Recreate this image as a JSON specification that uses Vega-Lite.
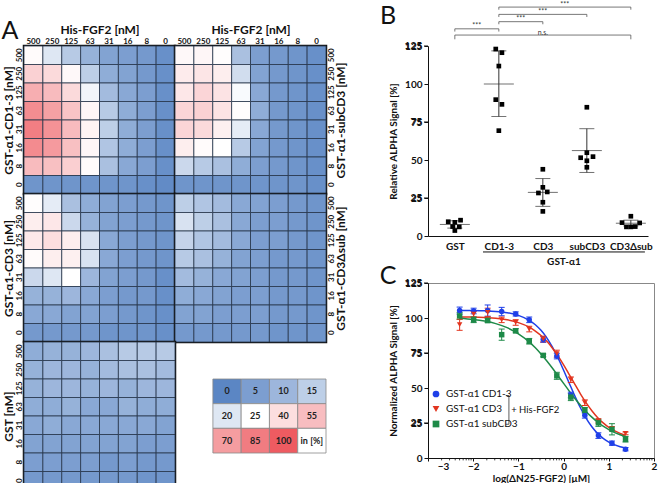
{
"$schema": "https://vega.github.io/schema/vega-lite/v6.json",
"padding": {"left": 0, "top": 0, "right": 0, "bottom": 0},
"config": {
  "font": "Lato",
  "view": {"stroke": null},
  "axis": {"grid": false, "domainColor": "#111", "tickColor": "#111", "labelColor": "#111", "titleColor": "#111", "labelFont": "Lato", "titleFont": "Lato"},
  "axisQuantitative": {"tickSize": 4, "labelFontSize": 10, "labelFontWeight": "bold", "labelFlush": false, "labelOverlap": false, "labelPadding": 2, "titleFontSize": 10, "titleFontWeight": "bold"},
  "text": {"font": "Lato"},
  "title": {"font": "Lato", "color": "#111"}
},
"datasets": {
"heat": [
{"b":"CD1-3","g":"500","h":"500","v":27},{"b":"CD1-3","g":"500","h":"250","v":20},{"b":"CD1-3","g":"500","h":"125","v":14},{"b":"CD1-3","g":"500","h":"63","v":9},{"b":"CD1-3","g":"500","h":"31","v":6},{"b":"CD1-3","g":"500","h":"16","v":5},{"b":"CD1-3","g":"500","h":"8","v":4},{"b":"CD1-3","g":"500","h":"0","v":2},
{"b":"CD1-3","g":"250","h":"500","v":46},{"b":"CD1-3","g":"250","h":"250","v":42},{"b":"CD1-3","g":"250","h":"125","v":28},{"b":"CD1-3","g":"250","h":"63","v":15},{"b":"CD1-3","g":"250","h":"31","v":8},{"b":"CD1-3","g":"250","h":"16","v":6},{"b":"CD1-3","g":"250","h":"8","v":4},{"b":"CD1-3","g":"250","h":"0","v":2},
{"b":"CD1-3","g":"125","h":"500","v":62},{"b":"CD1-3","g":"125","h":"250","v":56},{"b":"CD1-3","g":"125","h":"125","v":42},{"b":"CD1-3","g":"125","h":"63","v":23},{"b":"CD1-3","g":"125","h":"31","v":11},{"b":"CD1-3","g":"125","h":"16","v":7},{"b":"CD1-3","g":"125","h":"8","v":5},{"b":"CD1-3","g":"125","h":"0","v":2},
{"b":"CD1-3","g":"63","h":"500","v":77},{"b":"CD1-3","g":"63","h":"250","v":68},{"b":"CD1-3","g":"63","h":"125","v":52},{"b":"CD1-3","g":"63","h":"63","v":29},{"b":"CD1-3","g":"63","h":"31","v":14},{"b":"CD1-3","g":"63","h":"16","v":8},{"b":"CD1-3","g":"63","h":"8","v":5},{"b":"CD1-3","g":"63","h":"0","v":2},
{"b":"CD1-3","g":"31","h":"500","v":84},{"b":"CD1-3","g":"31","h":"250","v":75},{"b":"CD1-3","g":"31","h":"125","v":56},{"b":"CD1-3","g":"31","h":"63","v":30},{"b":"CD1-3","g":"31","h":"31","v":15},{"b":"CD1-3","g":"31","h":"16","v":8},{"b":"CD1-3","g":"31","h":"8","v":5},{"b":"CD1-3","g":"31","h":"0","v":2},
{"b":"CD1-3","g":"16","h":"500","v":78},{"b":"CD1-3","g":"16","h":"250","v":71},{"b":"CD1-3","g":"16","h":"125","v":54},{"b":"CD1-3","g":"16","h":"63","v":29},{"b":"CD1-3","g":"16","h":"31","v":13},{"b":"CD1-3","g":"16","h":"16","v":8},{"b":"CD1-3","g":"16","h":"8","v":5},{"b":"CD1-3","g":"16","h":"0","v":2},
{"b":"CD1-3","g":"8","h":"500","v":56},{"b":"CD1-3","g":"8","h":"250","v":54},{"b":"CD1-3","g":"8","h":"125","v":47},{"b":"CD1-3","g":"8","h":"63","v":27},{"b":"CD1-3","g":"8","h":"31","v":12},{"b":"CD1-3","g":"8","h":"16","v":7},{"b":"CD1-3","g":"8","h":"8","v":5},{"b":"CD1-3","g":"8","h":"0","v":2},
{"b":"CD1-3","g":"0","h":"500","v":3},{"b":"CD1-3","g":"0","h":"250","v":3},{"b":"CD1-3","g":"0","h":"125","v":3},{"b":"CD1-3","g":"0","h":"63","v":3},{"b":"CD1-3","g":"0","h":"31","v":3},{"b":"CD1-3","g":"0","h":"16","v":3},{"b":"CD1-3","g":"0","h":"8","v":2},{"b":"CD1-3","g":"0","h":"0","v":1},
{"b":"subCD3","g":"500","h":"500","v":28},{"b":"subCD3","g":"500","h":"250","v":29},{"b":"subCD3","g":"500","h":"125","v":26},{"b":"subCD3","g":"500","h":"63","v":12},{"b":"subCD3","g":"500","h":"31","v":5},{"b":"subCD3","g":"500","h":"16","v":4},{"b":"subCD3","g":"500","h":"8","v":3},{"b":"subCD3","g":"500","h":"0","v":2},
{"b":"subCD3","g":"250","h":"500","v":34},{"b":"subCD3","g":"250","h":"250","v":37},{"b":"subCD3","g":"250","h":"125","v":33},{"b":"subCD3","g":"250","h":"63","v":18},{"b":"subCD3","g":"250","h":"31","v":6},{"b":"subCD3","g":"250","h":"16","v":4},{"b":"subCD3","g":"250","h":"8","v":3},{"b":"subCD3","g":"250","h":"0","v":2},
{"b":"subCD3","g":"125","h":"500","v":36},{"b":"subCD3","g":"125","h":"250","v":44},{"b":"subCD3","g":"125","h":"125","v":38},{"b":"subCD3","g":"125","h":"63","v":24},{"b":"subCD3","g":"125","h":"31","v":7},{"b":"subCD3","g":"125","h":"16","v":4},{"b":"subCD3","g":"125","h":"8","v":3},{"b":"subCD3","g":"125","h":"0","v":2},
{"b":"subCD3","g":"63","h":"500","v":44},{"b":"subCD3","g":"63","h":"250","v":46},{"b":"subCD3","g":"63","h":"125","v":38},{"b":"subCD3","g":"63","h":"63","v":26},{"b":"subCD3","g":"63","h":"31","v":8},{"b":"subCD3","g":"63","h":"16","v":4},{"b":"subCD3","g":"63","h":"8","v":3},{"b":"subCD3","g":"63","h":"0","v":2},
{"b":"subCD3","g":"31","h":"500","v":44},{"b":"subCD3","g":"31","h":"250","v":42},{"b":"subCD3","g":"31","h":"125","v":32},{"b":"subCD3","g":"31","h":"63","v":21},{"b":"subCD3","g":"31","h":"31","v":7},{"b":"subCD3","g":"31","h":"16","v":4},{"b":"subCD3","g":"31","h":"8","v":3},{"b":"subCD3","g":"31","h":"0","v":2},
{"b":"subCD3","g":"16","h":"500","v":33},{"b":"subCD3","g":"16","h":"250","v":27},{"b":"subCD3","g":"16","h":"125","v":25},{"b":"subCD3","g":"16","h":"63","v":14},{"b":"subCD3","g":"16","h":"31","v":6},{"b":"subCD3","g":"16","h":"16","v":4},{"b":"subCD3","g":"16","h":"8","v":3},{"b":"subCD3","g":"16","h":"0","v":2},
{"b":"subCD3","g":"8","h":"500","v":17},{"b":"subCD3","g":"8","h":"250","v":14},{"b":"subCD3","g":"8","h":"125","v":12},{"b":"subCD3","g":"8","h":"63","v":8},{"b":"subCD3","g":"8","h":"31","v":5},{"b":"subCD3","g":"8","h":"16","v":4},{"b":"subCD3","g":"8","h":"8","v":3},{"b":"subCD3","g":"8","h":"0","v":2},
{"b":"subCD3","g":"0","h":"500","v":3},{"b":"subCD3","g":"0","h":"250","v":3},{"b":"subCD3","g":"0","h":"125","v":3},{"b":"subCD3","g":"0","h":"63","v":3},{"b":"subCD3","g":"0","h":"31","v":3},{"b":"subCD3","g":"0","h":"16","v":3},{"b":"subCD3","g":"0","h":"8","v":3},{"b":"subCD3","g":"0","h":"0","v":2},
{"b":"CD3","g":"500","h":"500","v":26},{"b":"CD3","g":"500","h":"250","v":21},{"b":"CD3","g":"500","h":"125","v":12},{"b":"CD3","g":"500","h":"63","v":8},{"b":"CD3","g":"500","h":"31","v":6},{"b":"CD3","g":"500","h":"16","v":5},{"b":"CD3","g":"500","h":"8","v":4},{"b":"CD3","g":"500","h":"0","v":3},
{"b":"CD3","g":"250","h":"500","v":33},{"b":"CD3","g":"250","h":"250","v":36},{"b":"CD3","g":"250","h":"125","v":17},{"b":"CD3","g":"250","h":"63","v":9},{"b":"CD3","g":"250","h":"31","v":6},{"b":"CD3","g":"250","h":"16","v":5},{"b":"CD3","g":"250","h":"8","v":4},{"b":"CD3","g":"250","h":"0","v":3},
{"b":"CD3","g":"125","h":"500","v":35},{"b":"CD3","g":"125","h":"250","v":40},{"b":"CD3","g":"125","h":"125","v":33},{"b":"CD3","g":"125","h":"63","v":19},{"b":"CD3","g":"125","h":"31","v":7},{"b":"CD3","g":"125","h":"16","v":5},{"b":"CD3","g":"125","h":"8","v":4},{"b":"CD3","g":"125","h":"0","v":3},
{"b":"CD3","g":"63","h":"500","v":27},{"b":"CD3","g":"63","h":"250","v":33},{"b":"CD3","g":"63","h":"125","v":32},{"b":"CD3","g":"63","h":"63","v":19},{"b":"CD3","g":"63","h":"31","v":7},{"b":"CD3","g":"63","h":"16","v":5},{"b":"CD3","g":"63","h":"8","v":4},{"b":"CD3","g":"63","h":"0","v":3},
{"b":"CD3","g":"31","h":"500","v":17},{"b":"CD3","g":"31","h":"250","v":20},{"b":"CD3","g":"31","h":"125","v":25},{"b":"CD3","g":"31","h":"63","v":10},{"b":"CD3","g":"31","h":"31","v":6},{"b":"CD3","g":"31","h":"16","v":5},{"b":"CD3","g":"31","h":"8","v":4},{"b":"CD3","g":"31","h":"0","v":2},
{"b":"CD3","g":"16","h":"500","v":9},{"b":"CD3","g":"16","h":"250","v":9},{"b":"CD3","g":"16","h":"125","v":10},{"b":"CD3","g":"16","h":"63","v":7},{"b":"CD3","g":"16","h":"31","v":5},{"b":"CD3","g":"16","h":"16","v":4},{"b":"CD3","g":"16","h":"8","v":4},{"b":"CD3","g":"16","h":"0","v":2},
{"b":"CD3","g":"8","h":"500","v":7},{"b":"CD3","g":"8","h":"250","v":7},{"b":"CD3","g":"8","h":"125","v":6},{"b":"CD3","g":"8","h":"63","v":6},{"b":"CD3","g":"8","h":"31","v":5},{"b":"CD3","g":"8","h":"16","v":4},{"b":"CD3","g":"8","h":"8","v":3},{"b":"CD3","g":"8","h":"0","v":2},
{"b":"CD3","g":"0","h":"500","v":4},{"b":"CD3","g":"0","h":"250","v":4},{"b":"CD3","g":"0","h":"125","v":4},{"b":"CD3","g":"0","h":"63","v":4},{"b":"CD3","g":"0","h":"31","v":3},{"b":"CD3","g":"0","h":"16","v":3},{"b":"CD3","g":"0","h":"8","v":3},{"b":"CD3","g":"0","h":"0","v":2},
{"b":"CD3dsub","g":"500","h":"500","v":15},{"b":"CD3dsub","g":"500","h":"250","v":13},{"b":"CD3dsub","g":"500","h":"125","v":11},{"b":"CD3dsub","g":"500","h":"63","v":7},{"b":"CD3dsub","g":"500","h":"31","v":6},{"b":"CD3dsub","g":"500","h":"16","v":5},{"b":"CD3dsub","g":"500","h":"8","v":4},{"b":"CD3dsub","g":"500","h":"0","v":3},
{"b":"CD3dsub","g":"250","h":"500","v":19},{"b":"CD3dsub","g":"250","h":"250","v":15},{"b":"CD3dsub","g":"250","h":"125","v":12},{"b":"CD3dsub","g":"250","h":"63","v":7},{"b":"CD3dsub","g":"250","h":"31","v":5},{"b":"CD3dsub","g":"250","h":"16","v":5},{"b":"CD3dsub","g":"250","h":"8","v":4},{"b":"CD3dsub","g":"250","h":"0","v":3},
{"b":"CD3dsub","g":"125","h":"500","v":16},{"b":"CD3dsub","g":"125","h":"250","v":13},{"b":"CD3dsub","g":"125","h":"125","v":11},{"b":"CD3dsub","g":"125","h":"63","v":7},{"b":"CD3dsub","g":"125","h":"31","v":5},{"b":"CD3dsub","g":"125","h":"16","v":5},{"b":"CD3dsub","g":"125","h":"8","v":4},{"b":"CD3dsub","g":"125","h":"0","v":3},
{"b":"CD3dsub","g":"63","h":"500","v":14},{"b":"CD3dsub","g":"63","h":"250","v":12},{"b":"CD3dsub","g":"63","h":"125","v":9},{"b":"CD3dsub","g":"63","h":"63","v":6},{"b":"CD3dsub","g":"63","h":"31","v":5},{"b":"CD3dsub","g":"63","h":"16","v":4},{"b":"CD3dsub","g":"63","h":"8","v":4},{"b":"CD3dsub","g":"63","h":"0","v":3},
{"b":"CD3dsub","g":"31","h":"500","v":11},{"b":"CD3dsub","g":"31","h":"250","v":9},{"b":"CD3dsub","g":"31","h":"125","v":7},{"b":"CD3dsub","g":"31","h":"63","v":6},{"b":"CD3dsub","g":"31","h":"31","v":5},{"b":"CD3dsub","g":"31","h":"16","v":4},{"b":"CD3dsub","g":"31","h":"8","v":4},{"b":"CD3dsub","g":"31","h":"0","v":3},
{"b":"CD3dsub","g":"16","h":"500","v":8},{"b":"CD3dsub","g":"16","h":"250","v":7},{"b":"CD3dsub","g":"16","h":"125","v":6},{"b":"CD3dsub","g":"16","h":"63","v":5},{"b":"CD3dsub","g":"16","h":"31","v":5},{"b":"CD3dsub","g":"16","h":"16","v":4},{"b":"CD3dsub","g":"16","h":"8","v":4},{"b":"CD3dsub","g":"16","h":"0","v":3},
{"b":"CD3dsub","g":"8","h":"500","v":6},{"b":"CD3dsub","g":"8","h":"250","v":6},{"b":"CD3dsub","g":"8","h":"125","v":5},{"b":"CD3dsub","g":"8","h":"63","v":5},{"b":"CD3dsub","g":"8","h":"31","v":5},{"b":"CD3dsub","g":"8","h":"16","v":4},{"b":"CD3dsub","g":"8","h":"8","v":4},{"b":"CD3dsub","g":"8","h":"0","v":3},
{"b":"CD3dsub","g":"0","h":"500","v":4},{"b":"CD3dsub","g":"0","h":"250","v":4},{"b":"CD3dsub","g":"0","h":"125","v":4},{"b":"CD3dsub","g":"0","h":"63","v":4},{"b":"CD3dsub","g":"0","h":"31","v":4},{"b":"CD3dsub","g":"0","h":"16","v":3},{"b":"CD3dsub","g":"0","h":"8","v":3},{"b":"CD3dsub","g":"0","h":"0","v":3},
{"b":"GST","g":"500","h":"500","v":8},{"b":"GST","g":"500","h":"250","v":9},{"b":"GST","g":"500","h":"125","v":9},{"b":"GST","g":"500","h":"63","v":10},{"b":"GST","g":"500","h":"31","v":12},{"b":"GST","g":"500","h":"16","v":14},{"b":"GST","g":"500","h":"8","v":14},{"b":"GST","g":"500","h":"0","v":14},
{"b":"GST","g":"250","h":"500","v":9},{"b":"GST","g":"250","h":"250","v":10},{"b":"GST","g":"250","h":"125","v":10},{"b":"GST","g":"250","h":"63","v":9},{"b":"GST","g":"250","h":"31","v":11},{"b":"GST","g":"250","h":"16","v":12},{"b":"GST","g":"250","h":"8","v":12},{"b":"GST","g":"250","h":"0","v":11},
{"b":"GST","g":"125","h":"500","v":9},{"b":"GST","g":"125","h":"250","v":10},{"b":"GST","g":"125","h":"125","v":10},{"b":"GST","g":"125","h":"63","v":9},{"b":"GST","g":"125","h":"31","v":10},{"b":"GST","g":"125","h":"16","v":9},{"b":"GST","g":"125","h":"8","v":10},{"b":"GST","g":"125","h":"0","v":10},
{"b":"GST","g":"63","h":"500","v":8},{"b":"GST","g":"63","h":"250","v":8},{"b":"GST","g":"63","h":"125","v":9},{"b":"GST","g":"63","h":"63","v":7},{"b":"GST","g":"63","h":"31","v":7},{"b":"GST","g":"63","h":"16","v":9},{"b":"GST","g":"63","h":"8","v":8},{"b":"GST","g":"63","h":"0","v":8},
{"b":"GST","g":"31","h":"500","v":7},{"b":"GST","g":"31","h":"250","v":8},{"b":"GST","g":"31","h":"125","v":7},{"b":"GST","g":"31","h":"63","v":7},{"b":"GST","g":"31","h":"31","v":7},{"b":"GST","g":"31","h":"16","v":7},{"b":"GST","g":"31","h":"8","v":7},{"b":"GST","g":"31","h":"0","v":6},
{"b":"GST","g":"16","h":"500","v":6},{"b":"GST","g":"16","h":"250","v":6},{"b":"GST","g":"16","h":"125","v":6},{"b":"GST","g":"16","h":"63","v":6},{"b":"GST","g":"16","h":"31","v":6},{"b":"GST","g":"16","h":"16","v":6},{"b":"GST","g":"16","h":"8","v":5},{"b":"GST","g":"16","h":"0","v":5},
{"b":"GST","g":"8","h":"500","v":5},{"b":"GST","g":"8","h":"250","v":5},{"b":"GST","g":"8","h":"125","v":5},{"b":"GST","g":"8","h":"63","v":5},{"b":"GST","g":"8","h":"31","v":4},{"b":"GST","g":"8","h":"16","v":5},{"b":"GST","g":"8","h":"8","v":4},{"b":"GST","g":"8","h":"0","v":4},
{"b":"GST","g":"0","h":"500","v":4},{"b":"GST","g":"0","h":"250","v":4},{"b":"GST","g":"0","h":"125","v":4},{"b":"GST","g":"0","h":"63","v":4},{"b":"GST","g":"0","h":"31","v":4},{"b":"GST","g":"0","h":"16","v":4},{"b":"GST","g":"0","h":"8","v":3},{"b":"GST","g":"0","h":"0","v":3}
],
"leg": [
{"row":"r0","col":0,"v":0,"t":"0"},{"row":"r0","col":1,"v":5,"t":"5"},{"row":"r0","col":2,"v":10,"t":"10"},{"row":"r0","col":3,"v":15,"t":"15"},
{"row":"r1","col":0,"v":20,"t":"20"},{"row":"r1","col":1,"v":25,"t":"25"},{"row":"r1","col":2,"v":40,"t":"40"},{"row":"r1","col":3,"v":55,"t":"55"},
{"row":"r2","col":0,"v":70,"t":"70"},{"row":"r2","col":1,"v":85,"t":"85"},{"row":"r2","col":2,"v":100,"t":"100"},{"row":"r2","col":3,"v":25,"t":"in [%]"}
],
"ylab": [{"v":25,"t":"25"},{"v":75,"t":"75"},{"v":125,"t":"125"}],
"bpts": [
{"i":0,"xj":-0.15,"val":9.4},{"i":0,"xj":0.0,"val":9.0},{"i":0,"xj":0.13,"val":10.4},{"i":0,"xj":-0.05,"val":6.2},{"i":0,"xj":0.1,"val":6.0},{"i":0,"xj":0.0,"val":3.6},
{"i":1,"xj":0.93,"val":123.0},{"i":1,"xj":1.07,"val":120.6},{"i":1,"xj":1.0,"val":111.8},{"i":1,"xj":0.93,"val":89.7},{"i":1,"xj":1.07,"val":86.6},{"i":1,"xj":1.0,"val":69.3},
{"i":2,"xj":2.0,"val":43.9},{"i":2,"xj":2.0,"val":32.0},{"i":2,"xj":1.9,"val":28.3},{"i":2,"xj":2.1,"val":29.0},{"i":2,"xj":2.0,"val":22.2},{"i":2,"xj":2.0,"val":16.2},
{"i":3,"xj":3.0,"val":84.7},{"i":3,"xj":3.0,"val":54.8},{"i":3,"xj":3.14,"val":52.2},{"i":3,"xj":2.86,"val":51.5},{"i":3,"xj":3.0,"val":49.5},{"i":3,"xj":3.0,"val":45.2},
{"i":4,"xj":4.0,"val":13.0},{"i":4,"xj":3.8,"val":8.8},{"i":4,"xj":4.2,"val":8.6},{"i":4,"xj":3.9,"val":6.0},{"i":4,"xj":4.0,"val":6.0},{"i":4,"xj":4.1,"val":6.2}
],
"bstat": [
{"i":0,"mean":7.6,"lo":5.2,"hi":10.0},
{"i":1,"mean":100.0,"lo":78.6,"hi":121.8},
{"i":2,"mean":28.7,"lo":19.5,"hi":37.8},
{"i":3,"mean":56.2,"lo":41.8,"hi":70.6},
{"i":4,"mean":8.4,"lo":6.6,"hi":10.4}
],
"brk": [
{"x1":0,"x2":1,"xm":0.5,"y":136.3,"yd":134.5,"lab":"***"},
{"x1":0,"x2":4,"xm":2,"y":132.2,"yd":129.4,"lab":"n.s."},
{"x1":1,"x2":2,"xm":1.5,"y":141.0,"yd":139.3,"lab":"***"},
{"x1":1,"x2":3,"xm":2,"y":145.8,"yd":144.1,"lab":"***"},
{"x1":1,"x2":4,"xm":2.5,"y":150.6,"yd":148.9,"lab":"***"}
],
"minor": [
{"m":-2.699},{"m":-2.523},{"m":-2.398},{"m":-2.301},{"m":-2.222},{"m":-2.155},{"m":-2.097},{"m":-2.046},
{"m":-1.699},{"m":-1.523},{"m":-1.398},{"m":-1.301},{"m":-1.222},{"m":-1.155},{"m":-1.097},{"m":-1.046},
{"m":-0.699},{"m":-0.523},{"m":-0.398},{"m":-0.301},{"m":-0.222},{"m":-0.155},{"m":-0.097},{"m":-0.046},
{"m":0.301},{"m":0.477},{"m":0.602},{"m":0.699},{"m":0.778},{"m":0.845},{"m":0.903},{"m":0.954},
{"m":1.301},{"m":1.477},{"m":1.602},{"m":1.699},{"m":1.778},{"m":1.845},{"m":1.903},{"m":1.954}
],
"curve": [
{"s":"GST-α1 CD1-3","x":-2.3,"y":105.4},{"s":"GST-α1 CD1-3","x":-2,"y":105.3},{"s":"GST-α1 CD1-3","x":-1.75,"y":105.1},{"s":"GST-α1 CD1-3","x":-1.5,"y":104.7},{"s":"GST-α1 CD1-3","x":-1.25,"y":103.8},{"s":"GST-α1 CD1-3","x":-1,"y":101.9},{"s":"GST-α1 CD1-3","x":-0.75,"y":98.2},{"s":"GST-α1 CD1-3","x":-0.625,"y":95.2},{"s":"GST-α1 CD1-3","x":-0.5,"y":91.2},{"s":"GST-α1 CD1-3","x":-0.375,"y":86.0},{"s":"GST-α1 CD1-3","x":-0.25,"y":79.4},{"s":"GST-α1 CD1-3","x":-0.125,"y":71.6},{"s":"GST-α1 CD1-3","x":0,"y":62.7},{"s":"GST-α1 CD1-3","x":0.125,"y":53.4},{"s":"GST-α1 CD1-3","x":0.25,"y":44.2},{"s":"GST-α1 CD1-3","x":0.375,"y":35.7},{"s":"GST-α1 CD1-3","x":0.5,"y":28.3},{"s":"GST-α1 CD1-3","x":0.625,"y":22.3},{"s":"GST-α1 CD1-3","x":0.75,"y":17.6},{"s":"GST-α1 CD1-3","x":0.875,"y":14.0},{"s":"GST-α1 CD1-3","x":1,"y":11.4},{"s":"GST-α1 CD1-3","x":1.25,"y":8.1},{"s":"GST-α1 CD1-3","x":1.37,"y":7.2},
{"s":"GST-α1 CD3","x":-2.3,"y":100.8},{"s":"GST-α1 CD3","x":-2,"y":100.65},{"s":"GST-α1 CD3","x":-1.75,"y":100.3},{"s":"GST-α1 CD3","x":-1.5,"y":99.8},{"s":"GST-α1 CD3","x":-1.25,"y":98.7},{"s":"GST-α1 CD3","x":-1,"y":96.7},{"s":"GST-α1 CD3","x":-0.75,"y":93.3},{"s":"GST-α1 CD3","x":-0.625,"y":90.7},{"s":"GST-α1 CD3","x":-0.5,"y":87.5},{"s":"GST-α1 CD3","x":-0.375,"y":83.5},{"s":"GST-α1 CD3","x":-0.25,"y":78.6},{"s":"GST-α1 CD3","x":-0.125,"y":72.9},{"s":"GST-α1 CD3","x":0,"y":66.5},{"s":"GST-α1 CD3","x":0.125,"y":59.6},{"s":"GST-α1 CD3","x":0.25,"y":52.6},{"s":"GST-α1 CD3","x":0.375,"y":45.7},{"s":"GST-α1 CD3","x":0.5,"y":39.4},{"s":"GST-α1 CD3","x":0.625,"y":33.8},{"s":"GST-α1 CD3","x":0.75,"y":29.0},{"s":"GST-α1 CD3","x":0.875,"y":25.1},{"s":"GST-α1 CD3","x":1,"y":21.9},{"s":"GST-α1 CD3","x":1.25,"y":17.6},{"s":"GST-α1 CD3","x":1.37,"y":16.2},
{"s":"GST-α1 subCD3","x":-2.3,"y":99.9},{"s":"GST-α1 subCD3","x":-2,"y":99.0},{"s":"GST-α1 subCD3","x":-1.75,"y":97.8},{"s":"GST-α1 subCD3","x":-1.5,"y":96.0},{"s":"GST-α1 subCD3","x":-1.25,"y":93.1},{"s":"GST-α1 subCD3","x":-1,"y":88.7},{"s":"GST-α1 subCD3","x":-0.75,"y":82.6},{"s":"GST-α1 subCD3","x":-0.625,"y":78.7},{"s":"GST-α1 subCD3","x":-0.5,"y":74.3},{"s":"GST-α1 subCD3","x":-0.375,"y":69.5},{"s":"GST-α1 subCD3","x":-0.25,"y":64.3},{"s":"GST-α1 subCD3","x":-0.125,"y":58.8},{"s":"GST-α1 subCD3","x":0,"y":53.3},{"s":"GST-α1 subCD3","x":0.125,"y":47.8},{"s":"GST-α1 subCD3","x":0.25,"y":42.5},{"s":"GST-α1 subCD3","x":0.375,"y":37.6},{"s":"GST-α1 subCD3","x":0.5,"y":33.1},{"s":"GST-α1 subCD3","x":0.625,"y":29.2},{"s":"GST-α1 subCD3","x":0.75,"y":25.7},{"s":"GST-α1 subCD3","x":0.875,"y":22.8},{"s":"GST-α1 subCD3","x":1,"y":20.3},{"s":"GST-α1 subCD3","x":1.25,"y":16.6},{"s":"GST-α1 subCD3","x":1.37,"y":15.3}
],
"cpts": [
{"s":"GST-α1 CD1-3","x":-2.3,"y":105.3,"lo":102.8,"hi":107.8},{"s":"GST-α1 CD1-3","x":-1.99,"y":105.0,"lo":103.0,"hi":107.0},{"s":"GST-α1 CD1-3","x":-1.68,"y":105.3,"lo":101.3,"hi":109.3},{"s":"GST-α1 CD1-3","x":-1.37,"y":104.6,"lo":101.6,"hi":107.6},{"s":"GST-α1 CD1-3","x":-1.06,"y":102.9,"lo":101.4,"hi":104.4},{"s":"GST-α1 CD1-3","x":-0.76,"y":98.7,"lo":96.7,"hi":100.7},{"s":"GST-α1 CD1-3","x":-0.45,"y":84.6,"lo":82.6,"hi":86.6},{"s":"GST-α1 CD1-3","x":-0.15,"y":72.8,"lo":70.8,"hi":74.8},{"s":"GST-α1 CD1-3","x":0.16,"y":45.0,"lo":43.0,"hi":47.0},{"s":"GST-α1 CD1-3","x":0.47,"y":30.5,"lo":28.5,"hi":32.5},{"s":"GST-α1 CD1-3","x":0.77,"y":16.0,"lo":14.0,"hi":18.0},{"s":"GST-α1 CD1-3","x":1.07,"y":10.6,"lo":9.1,"hi":12.1},{"s":"GST-α1 CD1-3","x":1.37,"y":6.3,"lo":5.1,"hi":7.5},
{"s":"GST-α1 CD3","x":-2.3,"y":95.2,"lo":91.2,"hi":99.2},{"s":"GST-α1 CD3","x":-1.99,"y":102.7,"lo":100.7,"hi":104.7},{"s":"GST-α1 CD3","x":-1.68,"y":104.0,"lo":101.0,"hi":107.0},{"s":"GST-α1 CD3","x":-1.37,"y":98.7,"lo":96.7,"hi":100.7},{"s":"GST-α1 CD3","x":-1.06,"y":96.8,"lo":94.8,"hi":98.8},{"s":"GST-α1 CD3","x":-0.76,"y":92.1,"lo":90.1,"hi":94.1},{"s":"GST-α1 CD3","x":-0.45,"y":85.0,"lo":83.0,"hi":87.0},{"s":"GST-α1 CD3","x":-0.15,"y":74.5,"lo":72.0,"hi":77.0},{"s":"GST-α1 CD3","x":0.16,"y":55.9,"lo":53.9,"hi":57.9},{"s":"GST-α1 CD3","x":0.47,"y":39.5,"lo":37.5,"hi":41.5},{"s":"GST-α1 CD3","x":0.77,"y":26.5,"lo":25.0,"hi":28.0},{"s":"GST-α1 CD3","x":1.07,"y":21.1,"lo":19.9,"hi":22.3},{"s":"GST-α1 CD3","x":1.37,"y":17.6,"lo":16.6,"hi":18.6},
{"s":"GST-α1 subCD3","x":-2.3,"y":101.5,"lo":99.0,"hi":104.0},{"s":"GST-α1 subCD3","x":-1.99,"y":98.7,"lo":96.7,"hi":100.7},{"s":"GST-α1 subCD3","x":-1.68,"y":98.2,"lo":96.7,"hi":99.7},{"s":"GST-α1 subCD3","x":-1.37,"y":88.1,"lo":84.1,"hi":92.1},{"s":"GST-α1 subCD3","x":-1.06,"y":90.9,"lo":89.4,"hi":92.4},{"s":"GST-α1 subCD3","x":-0.76,"y":83.4,"lo":81.4,"hi":85.4},{"s":"GST-α1 subCD3","x":-0.45,"y":73.3,"lo":72.3,"hi":74.3},{"s":"GST-α1 subCD3","x":-0.15,"y":58.7,"lo":56.2,"hi":61.2},{"s":"GST-α1 subCD3","x":0.16,"y":43.5,"lo":41.0,"hi":46.0},{"s":"GST-α1 subCD3","x":0.47,"y":34.1,"lo":32.1,"hi":36.1},{"s":"GST-α1 subCD3","x":0.77,"y":25.1,"lo":22.6,"hi":27.6},{"s":"GST-α1 subCD3","x":1.07,"y":20.5,"lo":16.5,"hi":24.5},{"s":"GST-α1 subCD3","x":1.37,"y":13.4,"lo":11.4,"hi":15.4}
]
},
"resolve": {"legend": {"color": "independent", "shape": "independent"}},
"spacing": 31,
"hconcat": [
{
 "concat": [
  {
   "width": 151, "height": 148,
   "view": {"stroke": "#111", "strokeWidth": 2.5},
   "resolve": {"scale": {"x": "independent", "y": "independent"}},
   "layer": [
    {
     "data": {"name": "heat"},
     "transform": [{"filter": "datum.b === 'CD1-3'"}],
     "mark": {"type": "rect", "stroke": "#26354a", "strokeWidth": 0.8},
     "encoding": {
      "x": {"field": "h", "type": "ordinal", "scale": {"domain": ["500","250","125","63","31","16","8","0"], "paddingInner": 0, "paddingOuter": 0},
            "axis": {"orient": "top", "title": "His-FGF2 [nM]", "ticks": false, "domain": false, "labelAngle": 0, "labelFontSize": 8, "labelFontWeight": "bold", "labelPadding": 1, "titleFontSize": 12, "titleFontWeight": "bold", "titlePadding": 1}},
      "y": {"field": "g", "type": "ordinal", "scale": {"domain": ["500","250","125","63","31","16","8","0"], "paddingInner": 0, "paddingOuter": 0},
            "axis": {"orient": "left", "title": "GST-α1-CD1-3 [nM]", "ticks": false, "domain": false, "labelAngle": -90, "labelAlign": "center", "labelBaseline": "bottom", "labelFontSize": 8, "labelFontWeight": "bold", "labelPadding": 1, "titleFontSize": 12, "titleFontWeight": "bold", "titlePadding": 0}},
      "fill": {"field": "v", "type": "quantitative", "scale": {"domain": [0, 25, 100], "range": ["#5b86c4", "#ffffff", "#ee5b61"], "interpolate": "rgb"}, "legend": null}
     }
    },
    {
     "data": {"values": [{"lab": "A", "px": -0.093, "py": 1.10}]},
     "mark": {"type": "text", "fontSize": 25, "align": "center", "baseline": "middle", "color": "#111"},
     "encoding": {
      "x": {"field": "px", "type": "quantitative", "scale": {"domain": [0, 1], "nice": false, "zero": false}, "axis": null},
      "y": {"field": "py", "type": "quantitative", "scale": {"domain": [0, 1], "nice": false, "zero": false}, "axis": null},
      "text": {"field": "lab"}
     }
    }
   ]
  },
  {
   "width": 151, "height": 148,
   "view": {"stroke": "#111", "strokeWidth": 2.5},
   "data": {"name": "heat"},
   "transform": [{"filter": "datum.b === 'subCD3'"}],
   "mark": {"type": "rect", "stroke": "#26354a", "strokeWidth": 0.8},
   "encoding": {
    "x": {"field": "h", "type": "ordinal", "scale": {"domain": ["500","250","125","63","31","16","8","0"], "paddingInner": 0, "paddingOuter": 0},
          "axis": {"orient": "top", "title": "His-FGF2 [nM]", "ticks": false, "domain": false, "labelAngle": 0, "labelFontSize": 8, "labelFontWeight": "bold", "labelPadding": 1, "titleFontSize": 12, "titleFontWeight": "bold", "titlePadding": 1}},
    "y": {"field": "g", "type": "ordinal", "scale": {"domain": ["500","250","125","63","31","16","8","0"], "paddingInner": 0, "paddingOuter": 0},
          "axis": {"orient": "right", "title": "GST-α1-subCD3 [nM]", "ticks": false, "domain": false, "labelAngle": -90, "labelAlign": "center", "labelBaseline": "top", "labelFontSize": 8, "labelFontWeight": "bold", "labelPadding": 1, "titleFontSize": 12, "titleFontWeight": "bold", "titlePadding": 0, "titleAngle": -90, "titleBaseline": "top"}},
    "fill": {"field": "v", "type": "quantitative", "scale": {"domain": [0, 25, 100], "range": ["#5b86c4", "#ffffff", "#ee5b61"], "interpolate": "rgb"}, "legend": null}
   }
  },
  {
   "width": 151, "height": 148,
   "view": {"stroke": "#111", "strokeWidth": 2.5},
   "data": {"name": "heat"},
   "transform": [{"filter": "datum.b === 'CD3'"}],
   "mark": {"type": "rect", "stroke": "#26354a", "strokeWidth": 0.8},
   "encoding": {
    "x": {"field": "h", "type": "ordinal", "scale": {"domain": ["500","250","125","63","31","16","8","0"], "paddingInner": 0, "paddingOuter": 0}, "axis": null},
    "y": {"field": "g", "type": "ordinal", "scale": {"domain": ["500","250","125","63","31","16","8","0"], "paddingInner": 0, "paddingOuter": 0},
          "axis": {"orient": "left", "title": "GST-α1-CD3 [nM]", "ticks": false, "domain": false, "labelAngle": -90, "labelAlign": "center", "labelBaseline": "bottom", "labelFontSize": 8, "labelFontWeight": "bold", "labelPadding": 1, "titleFontSize": 12, "titleFontWeight": "bold", "titlePadding": 0}},
    "fill": {"field": "v", "type": "quantitative", "scale": {"domain": [0, 25, 100], "range": ["#5b86c4", "#ffffff", "#ee5b61"], "interpolate": "rgb"}, "legend": null}
   }
  },
  {
   "width": 151, "height": 148,
   "view": {"stroke": "#111", "strokeWidth": 2.5},
   "data": {"name": "heat"},
   "transform": [{"filter": "datum.b === 'CD3dsub'"}],
   "mark": {"type": "rect", "stroke": "#26354a", "strokeWidth": 0.8},
   "encoding": {
    "x": {"field": "h", "type": "ordinal", "scale": {"domain": ["500","250","125","63","31","16","8","0"], "paddingInner": 0, "paddingOuter": 0}, "axis": null},
    "y": {"field": "g", "type": "ordinal", "scale": {"domain": ["500","250","125","63","31","16","8","0"], "paddingInner": 0, "paddingOuter": 0},
          "axis": {"orient": "right", "title": "GST-α1-CD3Δsub [nM]", "ticks": false, "domain": false, "labelAngle": -90, "labelAlign": "center", "labelBaseline": "top", "labelFontSize": 8, "labelFontWeight": "bold", "labelPadding": 1, "titleFontSize": 12, "titleFontWeight": "bold", "titlePadding": 0, "titleAngle": -90, "titleBaseline": "top"}},
    "fill": {"field": "v", "type": "quantitative", "scale": {"domain": [0, 25, 100], "range": ["#5b86c4", "#ffffff", "#ee5b61"], "interpolate": "rgb"}, "legend": null}
   }
  },
  {
   "width": 151, "height": 148,
   "view": {"stroke": "#111", "strokeWidth": 2.5},
   "data": {"name": "heat"},
   "transform": [{"filter": "datum.b === 'GST'"}],
   "mark": {"type": "rect", "stroke": "#26354a", "strokeWidth": 0.8},
   "encoding": {
    "x": {"field": "h", "type": "ordinal", "scale": {"domain": ["500","250","125","63","31","16","8","0"], "paddingInner": 0, "paddingOuter": 0}, "axis": null},
    "y": {"field": "g", "type": "ordinal", "scale": {"domain": ["500","250","125","63","31","16","8","0"], "paddingInner": 0, "paddingOuter": 0},
          "axis": {"orient": "left", "title": "GST [nM]", "ticks": false, "domain": false, "labelAngle": -90, "labelAlign": "center", "labelBaseline": "bottom", "labelFontSize": 8, "labelFontWeight": "bold", "labelPadding": 1, "titleFontSize": 12, "titleFontWeight": "bold", "titlePadding": 0}},
    "fill": {"field": "v", "type": "quantitative", "scale": {"domain": [0, 25, 100], "range": ["#5b86c4", "#ffffff", "#ee5b61"], "interpolate": "rgb"}, "legend": null}
   }
  },
  {
   "width": 151, "height": 148,
   "view": {"stroke": null},
   "data": {"name": "leg"},
   "encoding": {
    "x": {"field": "col", "type": "ordinal", "scale": {"domain": [0,1,2,3], "paddingInner": 0, "paddingOuter": 0.67, "align": 1}, "axis": null},
    "y": {"field": "row", "type": "ordinal", "scale": {"domain": ["pt","r0","r1","r2","pb"], "paddingInner": 0, "paddingOuter": 0.5, "align": 0.5}, "axis": null}
   },
   "layer": [
    {"mark": {"type": "rect", "stroke": "#888", "strokeWidth": 0.8},
     "encoding": {"fill": {"field": "v", "type": "quantitative", "scale": {"domain": [0, 25, 100], "range": ["#5b86c4", "#ffffff", "#ee5b61"], "interpolate": "rgb"}, "legend": null}}},
    {"mark": {"type": "text", "fontSize": 9, "fontWeight": "bold", "color": "#222"},
     "encoding": {"text": {"field": "t"}}}
   ]
  }
 ],
 "columns": 2,
 "spacing": 0,
 "bounds": "flush"
},
{
 "resolve": {"legend": {"color": "independent", "shape": "independent"}},
 "vconcat": [
  {
   "width": 220, "height": 190,
   "view": {"stroke": null},
   "resolve": {"axis": {"y": "independent"}},
   "layer": [
    {"data": {"name": "bstat"},
     "mark": {"type": "rule", "color": "#333", "strokeWidth": 1},
     "encoding": {
      "x": {"field": "i", "type": "quantitative", "title": null, "scale": {"domain": [-0.61, 4.39], "nice": false, "zero": false},
            "axis": {"values": [0,1,2,3,4], "labelExpr": "['GST','CD1-3','CD3','subCD3','CD3Δsub'][datum.value]", "ticks": false, "labelPadding": 5}},
      "y": {"field": "lo", "type": "quantitative", "title": "Relative ALPHA Signal [%]", "scale": {"domain": [0, 125], "nice": false, "zero": false},
            "axis": {"values": [0,25,50,75,100,125], "tickCount": 12, "format": "d", "titlePadding": 6, "labelOverlap": false, "labelFlush": false}},
      "y2": {"field": "hi"}
     }},
    {"data": {"name": "ylab"},
     "mark": {"type": "rule", "color": "#111", "strokeWidth": 1},
     "encoding": {"x": {"datum": -0.61, "type": "quantitative", "title": null, "axis": {"values": [0,1,2,3,4], "labelExpr": "['GST','CD1-3','CD3','subCD3','CD3Δsub'][datum.value]", "ticks": false, "labelPadding": 5}}, "x2": {"datum": -0.701}, "y": {"field": "v", "type": "quantitative", "axis": null}}},
    {"data": {"name": "ylab"},
     "mark": {"type": "text", "fontSize": 10, "fontWeight": "bold", "color": "#111", "align": "right", "baseline": "middle", "dx": -6},
     "encoding": {"x": {"datum": -0.61, "type": "quantitative", "title": null, "axis": {"values": [0,1,2,3,4], "labelExpr": "['GST','CD1-3','CD3','subCD3','CD3Δsub'][datum.value]", "ticks": false, "labelPadding": 5}}, "y": {"field": "v", "type": "quantitative", "axis": null}, "text": {"field": "t"}}},
    {"data": {"name": "bstat"},
     "mark": {"type": "tick", "orient": "horizontal", "size": 30, "thickness": 1, "color": "#333"},
     "encoding": {"x": {"field": "i", "type": "quantitative", "title": null, "axis": {"values": [0,1,2,3,4], "labelExpr": "['GST','CD1-3','CD3','subCD3','CD3Δsub'][datum.value]", "ticks": false, "labelPadding": 5}},
                  "y": {"field": "mean", "type": "quantitative", "axis": null}}},
    {"data": {"name": "bstat"},
     "mark": {"type": "tick", "orient": "horizontal", "size": 15, "thickness": 1, "color": "#333"},
     "encoding": {"x": {"field": "i", "type": "quantitative", "title": null, "axis": {"values": [0,1,2,3,4], "labelExpr": "['GST','CD1-3','CD3','subCD3','CD3Δsub'][datum.value]", "ticks": false, "labelPadding": 5}},
                  "y": {"field": "lo", "type": "quantitative", "axis": null}}},
    {"data": {"name": "bstat"},
     "mark": {"type": "tick", "orient": "horizontal", "size": 15, "thickness": 1, "color": "#333"},
     "encoding": {"x": {"field": "i", "type": "quantitative", "title": null, "axis": {"values": [0,1,2,3,4], "labelExpr": "['GST','CD1-3','CD3','subCD3','CD3Δsub'][datum.value]", "ticks": false, "labelPadding": 5}},
                  "y": {"field": "hi", "type": "quantitative", "axis": null}}},
    {"data": {"name": "bpts"},
     "mark": {"type": "point", "shape": "square", "filled": true, "color": "#000", "size": 22, "opacity": 1},
     "encoding": {"x": {"field": "xj", "type": "quantitative", "title": null, "axis": {"values": [0,1,2,3,4], "labelExpr": "['GST','CD1-3','CD3','subCD3','CD3Δsub'][datum.value]", "ticks": false, "labelPadding": 5}},
                  "y": {"field": "val", "type": "quantitative", "axis": null}}},
    {"data": {"name": "brk"},
     "mark": {"type": "rule", "color": "#555", "strokeWidth": 0.8},
     "encoding": {"x": {"field": "x1", "type": "quantitative", "title": null, "axis": {"values": [0,1,2,3,4], "labelExpr": "['GST','CD1-3','CD3','subCD3','CD3Δsub'][datum.value]", "ticks": false, "labelPadding": 5}}, "x2": {"field": "x2"},
                  "y": {"field": "y", "type": "quantitative", "axis": null}}},
    {"data": {"name": "brk"},
     "mark": {"type": "rule", "color": "#555", "strokeWidth": 0.8},
     "encoding": {"x": {"field": "x1", "type": "quantitative", "title": null, "axis": {"values": [0,1,2,3,4], "labelExpr": "['GST','CD1-3','CD3','subCD3','CD3Δsub'][datum.value]", "ticks": false, "labelPadding": 5}},
                  "y": {"field": "y", "type": "quantitative", "axis": null}, "y2": {"field": "yd"}}},
    {"data": {"name": "brk"},
     "mark": {"type": "rule", "color": "#555", "strokeWidth": 0.8},
     "encoding": {"x": {"field": "x2", "type": "quantitative", "title": null, "axis": {"values": [0,1,2,3,4], "labelExpr": "['GST','CD1-3','CD3','subCD3','CD3Δsub'][datum.value]", "ticks": false, "labelPadding": 5}},
                  "y": {"field": "y", "type": "quantitative", "axis": null}, "y2": {"field": "yd"}}},
    {"data": {"name": "brk"},
     "mark": {"type": "text", "fontSize": 7, "baseline": "bottom", "dy": 0.5, "color": "#333"},
     "encoding": {"x": {"field": "xm", "type": "quantitative", "title": null, "axis": {"values": [0,1,2,3,4], "labelExpr": "['GST','CD1-3','CD3','subCD3','CD3Δsub'][datum.value]", "ticks": false, "labelPadding": 5}},
                  "y": {"field": "y", "type": "quantitative", "axis": null}, "text": {"field": "lab"}}},
    {"data": {"values": [{"x1": 0.64, "x2": 4.32, "y": -10.5}]},
     "mark": {"type": "rule", "color": "#111", "strokeWidth": 1},
     "encoding": {"x": {"field": "x1", "type": "quantitative", "title": null, "axis": {"values": [0,1,2,3,4], "labelExpr": "['GST','CD1-3','CD3','subCD3','CD3Δsub'][datum.value]", "ticks": false, "labelPadding": 5}}, "x2": {"field": "x2"},
                  "y": {"field": "y", "type": "quantitative", "axis": null}}},
    {"data": {"values": [{"xm": 2.48, "y": -17, "lab": "GST-α1"}]},
     "mark": {"type": "text", "fontSize": 10, "fontWeight": "bold", "color": "#111", "baseline": "middle"},
     "encoding": {"x": {"field": "xm", "type": "quantitative", "title": null, "axis": {"values": [0,1,2,3,4], "labelExpr": "['GST','CD1-3','CD3','subCD3','CD3Δsub'][datum.value]", "ticks": false, "labelPadding": 5}},
                  "y": {"field": "y", "type": "quantitative", "axis": null}, "text": {"field": "lab"}}},
    {"data": {"values": [{"x": -1.52, "y": 144.5, "lab": "B"}]},
     "mark": {"type": "text", "fontSize": 25, "color": "#111", "baseline": "middle", "align": "center"},
     "encoding": {"x": {"field": "x", "type": "quantitative", "title": null, "axis": {"values": [0,1,2,3,4], "labelExpr": "['GST','CD1-3','CD3','subCD3','CD3Δsub'][datum.value]", "ticks": false, "labelPadding": 5}},
                  "y": {"field": "y", "type": "quantitative", "axis": null}, "text": {"field": "lab"}}}
   ]
  },
  {
   "width": 226, "height": 175,
   "view": {"stroke": "#888", "strokeWidth": 1},
   "resolve": {"axis": {"y": "independent"}},
   "layer": [
    {"data": {"name": "cpts"},
     "mark": {"type": "rule", "strokeWidth": 1},
     "encoding": {
      "x": {"field": "x", "type": "quantitative", "title": "log(ΔN25-FGF2) [μM]", "scale": {"domain": [-3, 2], "nice": false, "zero": false},
            "axis": {"values": [-3,-2,-1,0,1,2], "format": "d", "tickSize": 3, "labelPadding": 0, "titlePadding": 2, "labelOffset": {"condition": {"test": "datum.value === -3", "value": 15}, "value": 0}}},
      "y": {"field": "lo", "type": "quantitative", "title": "Normalized ALPHA Signal [%]", "scale": {"domain": [0, 125], "nice": false, "zero": false},
            "axis": {"values": [0,25,50,75,100,125], "tickCount": 12, "format": "d", "titlePadding": 6, "labelOverlap": false, "labelFlush": false}},
      "y2": {"field": "hi"},
      "stroke": {"field": "s", "type": "nominal", "scale": {"domain": ["GST-α1 CD1-3", "GST-α1 CD3", "GST-α1 subCD3"], "range": ["#1f3fe8", "#e2351f", "#1e8a48"]}, "legend": null}
     }},
    {"data": {"name": "ylab"},
     "mark": {"type": "rule", "color": "#111", "strokeWidth": 1},
     "encoding": {"x": {"datum": -3, "type": "quantitative", "title": "log(ΔN25-FGF2) [μM]", "axis": {"values": [-3,-2,-1,0,1,2], "format": "d", "tickSize": 3, "labelPadding": 0, "titlePadding": 2, "labelOffset": {"condition": {"test": "datum.value === -3", "value": 15}, "value": 0}}}, "x2": {"datum": -3.088}, "y": {"field": "v", "type": "quantitative", "axis": null}}},
    {"data": {"name": "ylab"},
     "mark": {"type": "text", "fontSize": 10, "fontWeight": "bold", "color": "#111", "align": "right", "baseline": "middle", "dx": -6},
     "encoding": {"x": {"datum": -3, "type": "quantitative", "title": "log(ΔN25-FGF2) [μM]", "axis": {"values": [-3,-2,-1,0,1,2], "format": "d", "tickSize": 3, "labelPadding": 0, "titlePadding": 2, "labelOffset": {"condition": {"test": "datum.value === -3", "value": 15}, "value": 0}}}, "y": {"field": "v", "type": "quantitative", "axis": null}, "text": {"field": "t"}}},
    {"data": {"name": "minor"},
     "mark": {"type": "rule", "color": "#111", "strokeWidth": 0.8},
     "encoding": {
      "x": {"field": "m", "type": "quantitative", "title": "log(ΔN25-FGF2) [μM]", "axis": {"values": [-3,-2,-1,0,1,2], "format": "d", "tickSize": 3, "labelPadding": 0, "titlePadding": 2, "labelOffset": {"condition": {"test": "datum.value === -3", "value": 15}, "value": 0}}},
      "y": {"datum": 0, "type": "quantitative", "axis": null},
      "y2": {"datum": -1.7}
     }},
    {"data": {"name": "curve"},
     "mark": {"type": "line", "strokeWidth": 1.5, "interpolate": "monotone"},
     "encoding": {
      "x": {"field": "x", "type": "quantitative", "title": "log(ΔN25-FGF2) [μM]", "axis": {"values": [-3,-2,-1,0,1,2], "format": "d", "tickSize": 3, "labelPadding": 0, "titlePadding": 2, "labelOffset": {"condition": {"test": "datum.value === -3", "value": 15}, "value": 0}}},
      "y": {"field": "y", "type": "quantitative", "axis": null},
      "stroke": {"field": "s", "type": "nominal", "legend": null}
     }},
    {"data": {"name": "cpts"},
     "mark": {"type": "point", "shape": "M-1,0H1", "filled": false, "size": 36, "strokeWidth": 1, "opacity": 1},
     "encoding": {
      "x": {"field": "x", "type": "quantitative", "title": "log(ΔN25-FGF2) [μM]", "axis": {"values": [-3,-2,-1,0,1,2], "format": "d", "tickSize": 3, "labelPadding": 0, "titlePadding": 2, "labelOffset": {"condition": {"test": "datum.value === -3", "value": 15}, "value": 0}}},
      "y": {"field": "lo", "type": "quantitative", "axis": null},
      "stroke": {"field": "s", "type": "nominal", "legend": null}
     }},
    {"data": {"name": "cpts"},
     "mark": {"type": "point", "shape": "M-1,0H1", "filled": false, "size": 36, "strokeWidth": 1, "opacity": 1},
     "encoding": {
      "x": {"field": "x", "type": "quantitative", "title": "log(ΔN25-FGF2) [μM]", "axis": {"values": [-3,-2,-1,0,1,2], "format": "d", "tickSize": 3, "labelPadding": 0, "titlePadding": 2, "labelOffset": {"condition": {"test": "datum.value === -3", "value": 15}, "value": 0}}},
      "y": {"field": "hi", "type": "quantitative", "axis": null},
      "stroke": {"field": "s", "type": "nominal", "legend": null}
     }},
    {"data": {"name": "cpts"},
     "mark": {"type": "point", "filled": true, "size": 30, "opacity": 1},
     "encoding": {
      "x": {"field": "x", "type": "quantitative", "title": "log(ΔN25-FGF2) [μM]", "axis": {"values": [-3,-2,-1,0,1,2], "format": "d", "tickSize": 3, "labelPadding": 0, "titlePadding": 2, "labelOffset": {"condition": {"test": "datum.value === -3", "value": 15}, "value": 0}}},
      "y": {"field": "y", "type": "quantitative", "axis": null},
      "color": {"field": "s", "type": "nominal", "scale": {"domain": ["GST-α1 CD1-3", "GST-α1 CD3", "GST-α1 subCD3"], "range": ["#1f3fe8", "#e2351f", "#1e8a48"]},
                "legend": {"orient": "none", "legendX": 3, "legendY": 106, "title": null, "labelFontSize": 10, "labelFont": "Lato", "labelColor": "#111", "symbolSize": 45, "rowPadding": 5, "labelOffset": 5, "padding": 0}},
      "shape": {"field": "s", "type": "nominal", "scale": {"domain": ["GST-α1 CD1-3", "GST-α1 CD3", "GST-α1 subCD3"], "range": ["circle", "triangle-down", "square"]},
                "legend": {"orient": "none", "legendX": 3, "legendY": 106, "title": null, "labelFontSize": 10, "labelFont": "Lato", "labelColor": "#111", "symbolSize": 45, "rowPadding": 5, "labelOffset": 5, "padding": 0}}
     }},
    {"data": {"values": [{"x1": -1.28, "x2": -1.21, "y": 44.6}, {"x1": -1.28, "x2": -1.21, "y": 24.1}]},
     "mark": {"type": "rule", "color": "#333", "strokeWidth": 0.8},
     "encoding": {"x": {"field": "x1", "type": "quantitative", "title": "log(ΔN25-FGF2) [μM]", "axis": {"values": [-3,-2,-1,0,1,2], "format": "d", "tickSize": 3, "labelPadding": 0, "titlePadding": 2, "labelOffset": {"condition": {"test": "datum.value === -3", "value": 15}, "value": 0}}}, "x2": {"field": "x2"},
                  "y": {"field": "y", "type": "quantitative", "axis": null}}},
    {"data": {"values": [{"x": -1.21, "y": 24.1, "y2": 44.6}]},
     "mark": {"type": "rule", "color": "#333", "strokeWidth": 0.8},
     "encoding": {"x": {"field": "x", "type": "quantitative", "title": "log(ΔN25-FGF2) [μM]", "axis": {"values": [-3,-2,-1,0,1,2], "format": "d", "tickSize": 3, "labelPadding": 0, "titlePadding": 2, "labelOffset": {"condition": {"test": "datum.value === -3", "value": 15}, "value": 0}}},
                  "y": {"field": "y", "type": "quantitative", "axis": null}, "y2": {"field": "y2"}}},
    {"data": {"values": [{"x": -1.16, "y": 34.4, "lab": "+ His-FGF2"}]},
     "mark": {"type": "text", "fontSize": 9.5, "align": "left", "baseline": "middle", "color": "#111"},
     "encoding": {"x": {"field": "x", "type": "quantitative", "title": "log(ΔN25-FGF2) [μM]", "axis": {"values": [-3,-2,-1,0,1,2], "format": "d", "tickSize": 3, "labelPadding": 0, "titlePadding": 2, "labelOffset": {"condition": {"test": "datum.value === -3", "value": 15}, "value": 0}}},
                  "y": {"field": "y", "type": "quantitative", "axis": null}, "text": {"field": "lab"}}},
    {"data": {"values": [{"x": -3.885, "y": 129.9, "lab": "C"}]},
     "mark": {"type": "text", "fontSize": 25, "align": "center", "baseline": "middle", "color": "#111"},
     "encoding": {"x": {"field": "x", "type": "quantitative", "title": "log(ΔN25-FGF2) [μM]", "axis": {"values": [-3,-2,-1,0,1,2], "format": "d", "tickSize": 3, "labelPadding": 0, "titlePadding": 2, "labelOffset": {"condition": {"test": "datum.value === -3", "value": 15}, "value": 0}}},
                  "y": {"field": "y", "type": "quantitative", "axis": null}, "text": {"field": "lab"}}}
   ]
  }
 ],
 "spacing": 47,
 "bounds": "flush"
}
]
}
